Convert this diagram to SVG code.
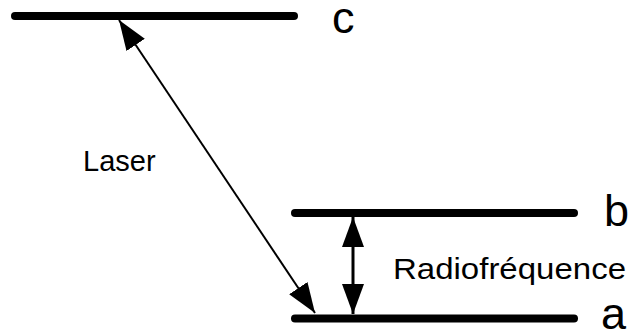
<svg xmlns="http://www.w3.org/2000/svg" width="628" height="336" viewBox="0 0 628 336">
<style>
.level{stroke:#000;stroke-width:8;stroke-linecap:round;fill:none}
.conn{stroke:#000;fill:none}
.lbl{font-family:"Liberation Sans",Arial,sans-serif;fill:#000}
.big{font-size:45px}
</style>
<defs>
<marker id="ah" viewBox="0 -11 30 22" refX="30" refY="0" markerWidth="30" markerHeight="22" markerUnits="userSpaceOnUse" orient="auto-start-reverse">
<path d="M0,-11 L30,0 L0,11 z" fill="#000"/>
</marker>
</defs>
<rect width="628" height="336" fill="#fff"/>
<g id="level-c">
<line class="level" x1="15" y1="16" x2="294" y2="16"/>
<text class="lbl big" x="332" y="33">c</text>
</g>
<g id="level-b">
<line class="level" x1="295" y1="213" x2="574" y2="213"/>
<text class="lbl big" x="604" y="226">b</text>
</g>
<g id="level-a">
<line class="level" x1="295" y1="318.5" x2="574" y2="318.5"/>
<text class="lbl big" x="601" y="329">a</text>
</g>
<g id="connectors">
<line class="conn" stroke-width="2" x1="119" y1="20" x2="315" y2="313" marker-start="url(#ah)" marker-end="url(#ah)"/>
<line class="conn" stroke-width="3" x1="353" y1="217" x2="353" y2="314" marker-start="url(#ah)" marker-end="url(#ah)"/>
<text class="lbl" x="83" y="171" font-size="29">Laser</text>
<text class="lbl" x="393" y="279" font-size="30" textLength="233" lengthAdjust="spacingAndGlyphs">Radiofréquence</text>
</g>
</svg>
